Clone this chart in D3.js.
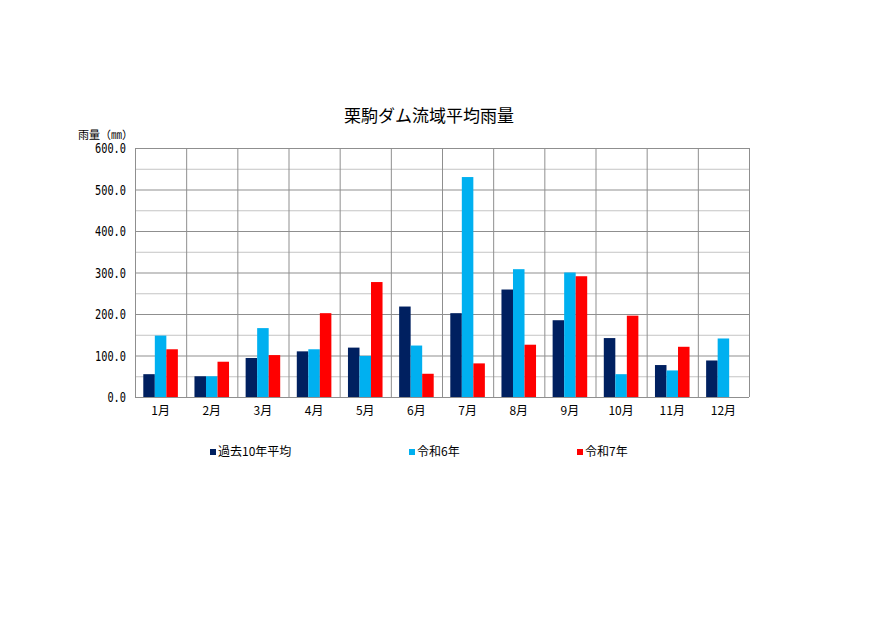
<!DOCTYPE html>
<html>
<head>
<meta charset="utf-8">
<script src="https://cdn.jsdelivr.net/npm/d3@7"></script>
<style>
    body { margin: 0; background: #fff; }
    svg { display: block; }
    text { font-family: "Noto Sans CJK JP", "Noto Sans", sans-serif; fill: #000; }
</style>
</head>
<body>
<svg id="chart" width="890" height="630"></svg>
<script>
"use strict";

// chart data
const months = ["1月", "2月", "3月", "4月", "5月", "6月", "7月", "8月", "9月", "10月", "11月", "12月"];
const seriesNames = ["過去10年平均", "令和6年", "令和7年"];
const seriesColors = ["#002060", "#00b0f0", "#ff0000"];
const avg10 = [55, 50, 94, 110, 119, 218, 202, 259, 185, 142, 77, 88];
const reiwa6 = [148, 50, 166, 115, 99, 124, 530, 308, 300, 55, 64, 141];
const reiwa7 = [115, 85, 101, 202, 277, 56, 81, 126, 291, 196, 121, null];
const yTicks = [0, 100, 200, 300, 400, 500, 600];

const svg = d3.select("#chart");
const margin = { top: 148, left: 135, right: 141, bottom: 233 };
const width = 890 - margin.left - margin.right;
const height = 630 - margin.top - margin.bottom;

const x = d3.scaleBand()
    .domain(months)
    .range([0, width])
    .paddingInner(0)
    .paddingOuter(0);
const xSub = d3.scaleBand()
    .domain(d3.range(seriesNames.length))
    .range([0, x.bandwidth()])
    .paddingOuter(0.72)
    .paddingInner(0);
const y = d3.scaleLinear().domain([0, 600]).range([height, 0]);

const g = svg.append("g").attr("transform", `translate(${margin.left},${margin.top})`);

// minor grid every 50
g.append("g")
    .selectAll("line")
    .data(d3.range(50, 600, 100))
    .join("line")
    .attr("x1", 0)
    .attr("x2", width)
    .attr("y1", (d) => y(d) + 0.5)
    .attr("y2", (d) => y(d) + 0.5)
    .attr("stroke", "#c4c4c4");

// major grid
g.append("g")
    .selectAll("line")
    .data(yTicks)
    .join("line")
    .attr("x1", 0)
    .attr("x2", width)
    .attr("y1", (d) => y(d) + 0.5)
    .attr("y2", (d) => y(d) + 0.5)
    .attr("stroke", "#8f8f8f");

// vertical category lines
g.append("g")
    .selectAll("line")
    .data(months.concat([null]))
    .join("line")
    .attr("x1", (d) => (d === null ? width : x(d)) + 0.5)
    .attr("x2", (d) => (d === null ? width : x(d)) + 0.5)
    .attr("y1", 0)
    .attr("y2", height)
    .attr("stroke", "#8f8f8f");

// bars
const allSeries = [avg10, reiwa6, reiwa7];
allSeries.forEach((values, si) => {
    g.append("g")
        .attr("fill", seriesColors[si])
        .selectAll("rect")
        .data(values.map((v, i) => ({ month: months[i], value: v })).filter((d) => d.value !== null))
        .join("rect")
        .attr("x", (d) => x(d.month) + xSub(si))
        .attr("width", xSub.bandwidth())
        .attr("y", (d) => y(d.value))
        .attr("height", (d) => height - y(d.value));
});

// y axis, condensed monospace look
const fmt = d3.format(".1f");
const yAxis = g.append("g")
    .call(d3.axisLeft(y).tickValues(yTicks).tickSize(0).tickPadding(9).tickFormat(fmt));
yAxis.select(".domain").remove();
yAxis.selectAll("text")
    .style("font-family", "'DejaVu Sans Mono', monospace")
    .style("font-size", "14px")
    .attr("textLength", (d) => fmt(d).length * 6.2)
    .attr("lengthAdjust", "spacingAndGlyphs")
    .attr("dy", "0.35em");

// x axis
const xAxis = g.append("g")
    .attr("transform", `translate(0,${height})`)
    .call(d3.axisBottom(x).tickSize(0).tickPadding(9));
xAxis.select(".domain").remove();
xAxis.selectAll("text").style("font-size", "12px");

// title
svg.append("text")
    .attr("x", 429)
    .attr("y", 122)
    .attr("text-anchor", "middle")
    .style("font-size", "17px")
    .text("栗駒ダム流域平均雨量");

// y label
svg.append("text")
    .attr("x", 78)
    .attr("y", 139)
    .style("font-size", "11px")
    .text("雨量（㎜）");

// legend
const legendX = [210, 409, 577];
const legend = svg.append("g")
    .selectAll("g")
    .data(seriesNames)
    .join("g")
    .attr("transform", (d, i) => `translate(${legendX[i]},452)`);
legend.append("rect")
    .attr("x", 0)
    .attr("y", -3)
    .attr("width", 6)
    .attr("height", 6)
    .attr("fill", (d, i) => seriesColors[i]);
legend.append("text")
    .attr("x", 8)
    .attr("y", 0)
    .attr("dy", "0.36em")
    .style("font-size", "12px")
    .text((d) => d);
</script>
</body>
</html>
